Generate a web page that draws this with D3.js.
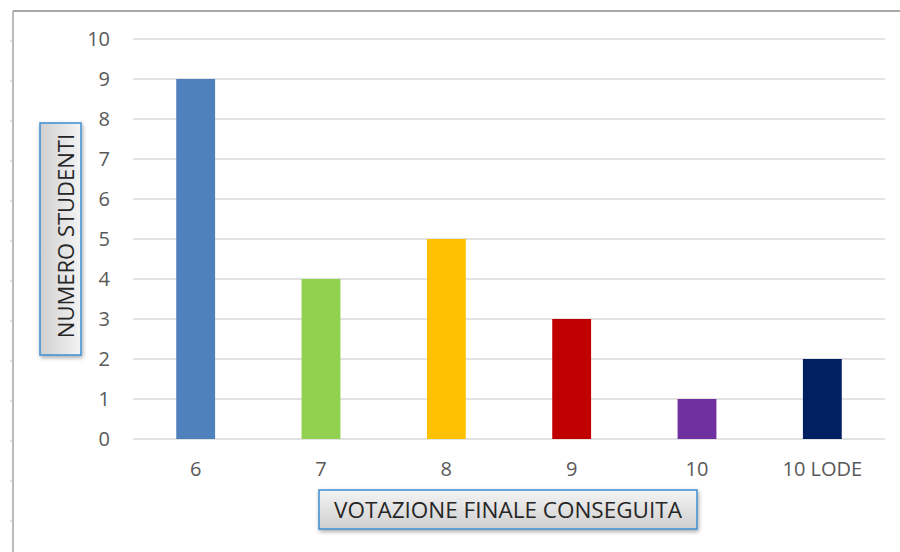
<!DOCTYPE html>
<html>
<head>
<meta charset="utf-8">
<script src="https://cdn.jsdelivr.net/npm/d3@7"></script>
<style>
  body { margin: 0; background: #fff; }
  svg { display: block; font-family: "Open Sans", "Noto Sans", sans-serif; }
</style>
</head>
<body>
<div id="chart"></div>
<script>
var categories = ["6", "7", "8", "9", "10", "10 LODE"];
var values = [9, 4, 5, 3, 1, 2];
var barColors = ["#4f81bd", "#92d050", "#ffc000", "#c00000", "#7030a0", "#002060"];
var yTicks = [0, 1, 2, 3, 4, 5, 6, 7, 8, 9, 10];

var width = 900, height = 552;
var margin = {top: 39, left: 133, right: 15, bottom: 113};
var font = "'Open Sans', 'Noto Sans', sans-serif";

var svg = d3.select("#chart").append("svg")
    .attr("width", width)
    .attr("height", height);

var defs = svg.append("defs");
var grad = defs.append("linearGradient")
    .attr("id", "boxGrad")
    .attr("x1", 0).attr("y1", 0).attr("x2", 0).attr("y2", 1);
grad.append("stop").attr("offset", "0%").attr("stop-color", "#f4f4f4");
grad.append("stop").attr("offset", "100%").attr("stop-color", "#cfcfcf");
var gradV = defs.append("linearGradient")
    .attr("id", "boxGradV")
    .attr("x1", 1).attr("y1", 0).attr("x2", 0).attr("y2", 0);
gradV.append("stop").attr("offset", "0%").attr("stop-color", "#f4f4f4");
gradV.append("stop").attr("offset", "100%").attr("stop-color", "#cfcfcf");
var shadow = defs.append("filter").attr("id", "shadow")
    .attr("x", "-10%").attr("y", "-20%").attr("width", "130%").attr("height", "160%");
shadow.append("feDropShadow")
    .attr("dx", 1).attr("dy", 2).attr("stdDeviation", 2)
    .attr("flood-color", "#000").attr("flood-opacity", 0.35);

// chart area frame (top and left edges visible)
svg.append("line")
    .attr("x1", 13).attr("y1", 11).attr("x2", width).attr("y2", 11)
    .attr("stroke", "#8c8c8c").attr("stroke-width", 1.5);
svg.append("line")
    .attr("x1", 13).attr("y1", 11).attr("x2", 13).attr("y2", height)
    .attr("stroke", "#a6a6a6").attr("stroke-width", 1.5);
d3.range(41, height, 40).forEach(function(y) {
    svg.append("line")
        .attr("x1", 10).attr("x2", 13).attr("y1", y).attr("y2", y)
        .attr("stroke", "#bfbfbf");
});

var x = d3.scaleBand()
    .domain(categories)
    .range([margin.left, width - margin.right])
    .paddingInner(0.69)
    .paddingOuter(0.345);

var y = d3.scaleLinear()
    .domain([0, 10])
    .range([height - margin.bottom, margin.top]);

// gridlines
svg.append("g")
    .selectAll("line")
    .data(yTicks)
    .enter()
    .append("line")
        .attr("x1", margin.left)
        .attr("x2", width - margin.right)
        .attr("y1", function(d) { return y(d); })
        .attr("y2", function(d) { return y(d); })
        .attr("stroke", "#d9d9d9")
        .attr("stroke-width", 1.3);

// y axis labels
var yAxis = svg.append("g")
    .attr("transform", "translate(" + (margin.left - 23) + ",0)")
    .call(d3.axisLeft(y).tickValues(yTicks).tickSize(0).tickPadding(0));
yAxis.select(".domain").remove();
yAxis.selectAll("text")
    .attr("fill", "#595959")
    .attr("font-size", "20px")
    .attr("font-family", font);

// bars
svg.append("g")
    .selectAll("rect")
    .data(values)
    .enter()
    .append("rect")
        .attr("x", function(d, i) { return x(categories[i]); })
        .attr("y", function(d) { return y(d); })
        .attr("width", x.bandwidth())
        .attr("height", function(d) { return y(0) - y(d); })
        .attr("fill", function(d, i) { return barColors[i]; });

// x axis labels
var xAxis = svg.append("g")
    .attr("transform", "translate(0," + (y(0) + 22.5) + ")")
    .call(d3.axisBottom(x).tickSize(0).tickPadding(0));
xAxis.select(".domain").remove();
xAxis.selectAll("text")
    .attr("fill", "#595959")
    .attr("font-size", "20px")
    .attr("font-family", font);

// x axis title box
var xt = svg.append("g");
xt.append("rect")
    .attr("x", 319).attr("y", 490).attr("width", 378).attr("height", 39)
    .attr("fill", "url(#boxGrad)")
    .attr("stroke", "#3d8fd4").attr("stroke-width", 1.5)
    .attr("filter", "url(#shadow)");
xt.append("text")
    .attr("x", 508).attr("y", 518)
    .attr("text-anchor", "middle")
    .attr("fill", "#262626")
    .attr("font-size", "22.5px")
    .attr("font-family", font)
    .text("VOTAZIONE FINALE CONSEGUITA");

// y axis title box
var yt = svg.append("g");
yt.append("rect")
    .attr("x", 40).attr("y", 123).attr("width", 41).attr("height", 232)
    .attr("fill", "url(#boxGradV)")
    .attr("stroke", "#3d8fd4").attr("stroke-width", 1.5)
    .attr("filter", "url(#shadow)");
yt.append("text")
    .attr("transform", "translate(74,236) rotate(-90)")
    .attr("text-anchor", "middle")
    .attr("fill", "#262626")
    .attr("font-size", "22px")
    .attr("font-family", font)
    .text("NUMERO STUDENTI");
</script>
</body>
</html>
